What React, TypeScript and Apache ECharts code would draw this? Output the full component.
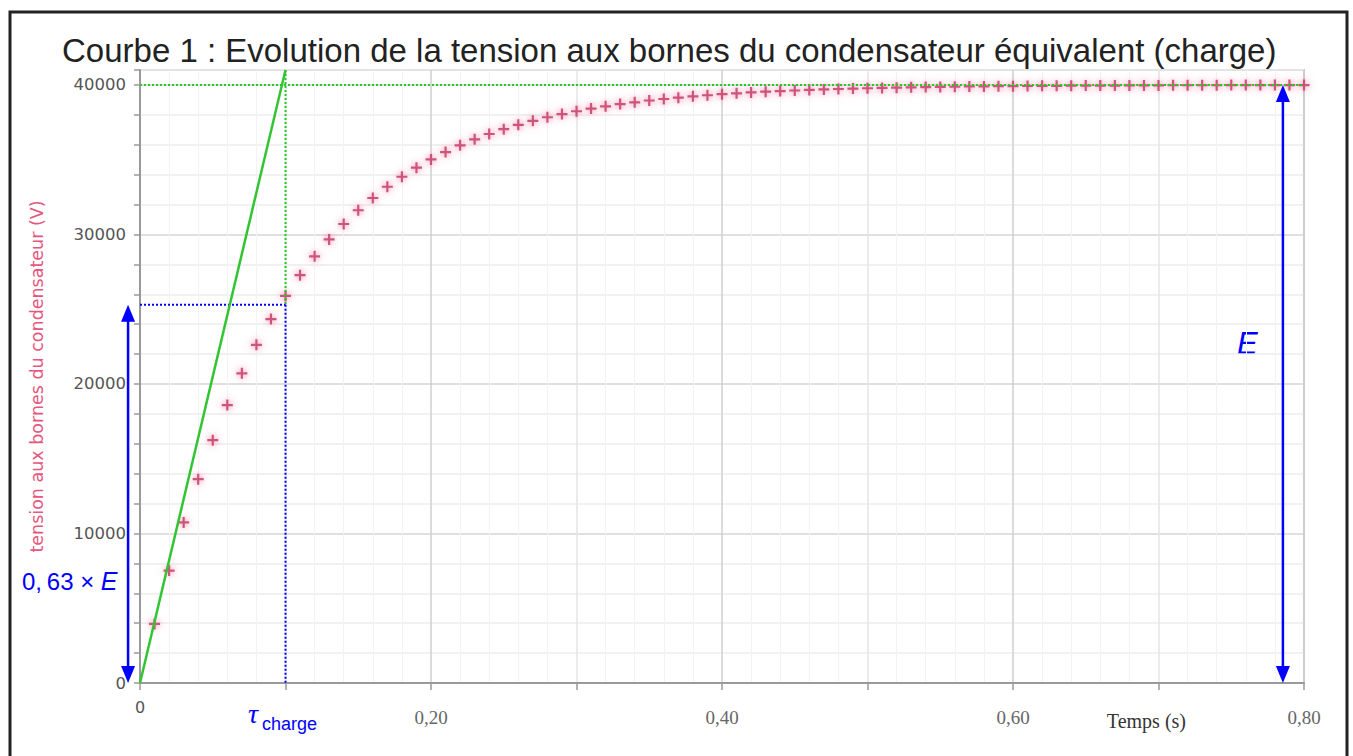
import React, { useEffect, useRef } from 'react';
import * as echarts from 'echarts';

const titleText = "Courbe 1 : Evolution de la tension aux bornes du condensateur équivalent (charge)";
const yAxisName = "tension aux bornes du condensateur (V)";
const xAxisName = "Temps (s)";

const times = [
  0.01, 0.02, 0.03, 0.04, 0.05, 0.06, 0.07, 0.08, 0.09, 0.10,
  0.11, 0.12, 0.13, 0.14, 0.15, 0.16, 0.17, 0.18, 0.19, 0.20,
  0.21, 0.22, 0.23, 0.24, 0.25, 0.26, 0.27, 0.28, 0.29, 0.30,
  0.31, 0.32, 0.33, 0.34, 0.35, 0.36, 0.37, 0.38, 0.39, 0.40,
  0.41, 0.42, 0.43, 0.44, 0.45, 0.46, 0.47, 0.48, 0.49, 0.50,
  0.51, 0.52, 0.53, 0.54, 0.55, 0.56, 0.57, 0.58, 0.59, 0.60,
  0.61, 0.62, 0.63, 0.64, 0.65, 0.66, 0.67, 0.68, 0.69, 0.70,
  0.71, 0.72, 0.73, 0.74, 0.75, 0.76, 0.77, 0.78, 0.79, 0.80,
];

const tension = [
  3950, 7520, 10740, 13630, 16240, 18590, 20710, 22620, 24340, 25890,
  27280, 28540, 29670, 30700, 31620, 32440, 33190, 33860, 34470, 35020,
  35510, 35960, 36360, 36720, 37040, 37330, 37600, 37840, 38050, 38240,
  38420, 38570, 38720, 38840, 38960, 39060, 39150, 39240, 39310, 39380,
  39440, 39500, 39550, 39590, 39630, 39670, 39700, 39730, 39760, 39780,
  39800, 39820, 39840, 39860, 39870, 39880, 39900, 39900, 39920, 39920,
  39930, 39940, 39940, 39950, 39960, 39960, 39960, 39970, 39970, 39970,
  39980, 39980, 39980, 39980, 39990, 39990, 39990, 39990, 39990, 39990,
];

// annotation values (data units)
const E = 40000;
const tau = 0.1;
const uTau = 25300;
const yTop = 41000;
const tangentEnd = [0.1, 41000];
const leftArrowX = -0.0082;
const rightArrowX = 0.7855;
// arrows: [x, from, to]
const arrows = [
  [leftArrowX, 0, uTau],
  [rightArrowX, 0, E],
];

const BLUE = '#0000ff';
const GREEN_LINE = '#33c433';
const GREEN_DOT = '#22cc22';

const HEAD_W = 14;
const HEAD_H = 17;

export default function App() {
  const ref = useRef<HTMLDivElement>(null);

  useEffect(() => {
    document.body.style.margin = '0';
    if (!ref.current) return;
    const chart = echarts.init(ref.current, null, { renderer: 'svg' });

    const dotted = (color: string, data: number[][]) => ({
      type: 'line',
      data,
      symbol: 'none',
      silent: true,
      z: 4,
      lineStyle: { color, width: 2, type: [2, 2] },
    });

    const renderArrow = (params: any, api: any) => {
      const x = api.value(0);
      const p0 = api.coord([x, api.value(1)]);
      const p1 = api.coord([x, api.value(2)]);
      const hw = HEAD_W / 2;
      return {
        type: 'group',
        children: [
          {
            type: 'line',
            shape: { x1: p0[0], y1: p0[1] - HEAD_H + 2, x2: p1[0], y2: p1[1] + HEAD_H - 2 },
            style: { stroke: BLUE, lineWidth: 2.5 },
          },
          {
            type: 'polygon',
            shape: { points: [[p1[0], p1[1]], [p1[0] - hw, p1[1] + HEAD_H], [p1[0] + hw, p1[1] + HEAD_H]] },
            style: { fill: BLUE },
          },
          {
            type: 'polygon',
            shape: { points: [[p0[0], p0[1]], [p0[0] - hw, p0[1] - HEAD_H], [p0[0] + hw, p0[1] - HEAD_H]] },
            style: { fill: BLUE },
          },
        ],
      };
    };

    const option: any = {
      animation: false,
      backgroundColor: '#ffffff',
      title: {
        text: titleText,
        left: 57,
        top: 29,
        textStyle: {
          fontFamily: 'Liberation Sans, Arial, sans-serif',
          fontSize: 33,
          fontWeight: 'normal',
          color: '#222222',
        },
      },
      grid: {
        left: 140,
        right: 49,
        top: 70,
        bottom: 73,
        show: true,
        borderColor: '#c8c8c8',
        borderWidth: 2,
      },
      xAxis: {
        type: 'value',
        min: 0,
        max: 0.8,
        interval: 0.1,
        name: xAxisName,
        nameLocation: 'end',
        nameGap: -118,
        nameTextStyle: {
          fontFamily: 'Liberation Serif, Times New Roman, serif',
          fontSize: 20,
          color: '#333333',
          align: 'right',
          verticalAlign: 'top',
          padding: [28, 0, 0, 0],
        },
        axisLine: { onZero: false, lineStyle: { color: '#9a9a9a', width: 2 } },
        axisTick: { length: 7, lineStyle: { color: '#9a9a9a', width: 1.5 } },
        axisLabel: {
          margin: 14,
          formatter: (v: number) => {
            const k = Math.round(v * 10);
            if (k === 0) return '{z|0}';
            if (k % 2 !== 0) return '';
            return '{s|' + (k / 10).toFixed(2).replace('.', ',') + '}';
          },
          rich: {
            z: { fontFamily: 'DejaVu Sans', fontSize: 16, color: '#555555', lineHeight: 20 },
            s: { fontFamily: 'Liberation Serif, serif', fontSize: 19, color: '#666666', lineHeight: 40 },
          },
        },
        splitLine: { show: true, lineStyle: { color: ['#cfcfcf', '#e4e4e4'], width: 1.5 } },
        minorTick: { show: false, splitNumber: 5 },
        minorSplitLine: { show: true, lineStyle: { color: '#f3f3f3', width: 1 } },
      },
      yAxis: {
        type: 'value',
        min: 0,
        max: yTop,
        interval: 2000,
        name: yAxisName,
        nameLocation: 'middle',
        nameGap: 94,
        nameTextStyle: { fontFamily: 'DejaVu Sans', fontSize: 17.5, color: '#e5577e' },
        axisLine: { show: true, lineStyle: { color: '#9a9a9a', width: 2 } },
        axisTick: { show: true, length: 6, lineStyle: { color: '#9a9a9a', width: 1.5 } },
        axisLabel: {
          margin: 14,
          fontFamily: 'DejaVu Sans',
          fontSize: 16.5,
          color: '#555555',
          formatter: (v: number) => (v % 10000 === 0 ? String(v) : ''),
        },
        splitLine: {
          show: true,
          lineStyle: { color: ['#d6d6d6', '#ececec', '#ececec', '#ececec', '#ececec'], width: 1.5 },
        },
      },
      series: [
        {
          type: 'scatter',
          name: 'tension',
          data: times.map((t, i) => [t, tension[i]]),
          symbol: 'path://M4,0H6V4H10V6H6V10H4V6H0V4H4Z',
          symbolSize: 11,
          z: 3,
          itemStyle: {
            color: '#c8466e',
            opacity: 0.9,
            shadowBlur: 7,
            shadowColor: 'rgba(245,90,140,0.9)',
          },
        },
        dotted(GREEN_DOT, [[0, E], [0.8, E]]),
        dotted(GREEN_DOT, [[tau, yTop], [tau, uTau]]),
        dotted(BLUE, [[0, uTau], [tau, uTau]]),
        dotted(BLUE, [[tau, uTau], [tau, 0]]),
        {
          type: 'line',
          name: 'tangente',
          data: [[0, 0], tangentEnd],
          symbol: 'none',
          silent: true,
          z: 5,
          lineStyle: { color: GREEN_LINE, width: 2.5 },
        },
        {
          type: 'custom',
          name: 'fleches',
          data: arrows,
          clip: false,
          silent: true,
          z: 7,
          renderItem: renderArrow,
        },
      ],
      graphic: [
        {
          type: 'rect',
          shape: { x: 10, y: 12, width: 1337, height: 760 },
          style: { fill: 'none', stroke: '#222222', lineWidth: 3 },
          silent: true,
        },
        {
          type: 'text',
          x: 22,
          y: 581,
          style: {
            text: '0,\u200963 × {e|E}',
            fill: BLUE,
            fontFamily: 'Liberation Sans, Arial, sans-serif',
            fontSize: 24,
            verticalAlign: 'middle',
            rich: {
              e: { fontStyle: 'italic', fontFamily: 'Liberation Sans, Arial, sans-serif', fontSize: 25, fill: BLUE },
            },
          },
        },
        {
          type: 'text',
          x: 1237,
          y: 343,
          style: {
            text: 'E',
            fill: BLUE,
            fontFamily: 'Liberation Sans, Arial, sans-serif',
            fontStyle: 'italic',
            fontSize: 31,
            verticalAlign: 'middle',
          },
        },
        {
          type: 'text',
          x: 248,
          y: 713,
          style: {
            text: '\u03c4',
            fill: BLUE,
            fontFamily: 'Liberation Serif, serif',
            fontStyle: 'italic',
            fontSize: 28,
            verticalAlign: 'middle',
          },
        },
        {
          type: 'text',
          x: 262,
          y: 724,
          style: {
            text: 'charge',
            fill: BLUE,
            fontFamily: 'Liberation Sans, Arial, sans-serif',
            fontSize: 18,
            verticalAlign: 'middle',
          },
        },
      ],
    };

    chart.setOption(option);
    return () => chart.dispose();
  }, []);

  return <div ref={ref} style={{ width: 1353, height: 756 }} />;
}
